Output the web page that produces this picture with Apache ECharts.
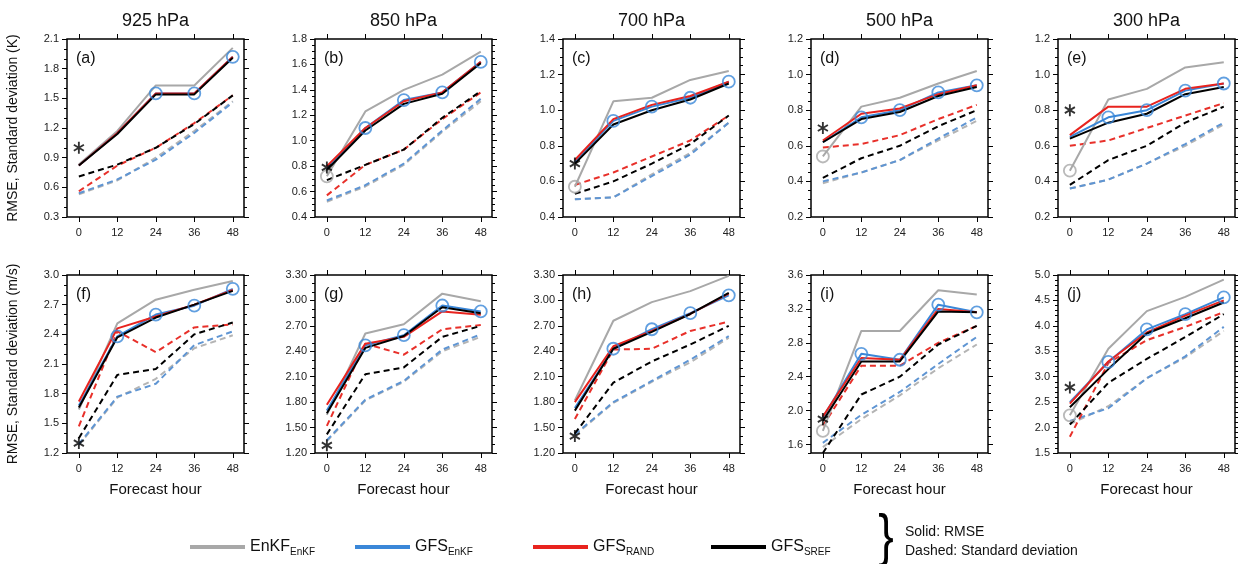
<!DOCTYPE html>
<html>
<head>
<meta charset="utf-8">
<script src="https://cdn.jsdelivr.net/npm/echarts@6/dist/echarts.min.js"></script>
<style>
html,body{margin:0;padding:0;background:#fff;}
#chart{width:1238px;height:564px;}
</style>
</head>
<body>
<div id="chart"></div>
<script>
// ---------------- DATA ----------------
const hours = [0, 12, 24, 36, 48];
const levels = ['925 hPa', '850 hPa', '700 hPa', '500 hPa', '300 hPa'];
const panelLabels = ['(a)', '(b)', '(c)', '(d)', '(e)', '(f)', '(g)', '(h)', '(i)', '(j)'];
const rowTitles = ['RMSE, Standard deviation (K)', 'RMSE, Standard deviation (m/s)'];
const xAxisTitle = 'Forecast hour';
const modelNames = ['EnKF_EnKF', 'GFS_EnKF', 'GFS_RAND', 'GFS_SREF'];
const modelMain = ['EnKF', 'GFS', 'GFS', 'GFS'];
const modelSub = ['EnKF', 'EnKF', 'RAND', 'SREF'];
const noteLines = ['Solid: RMSE', 'Dashed: Standard deviation'];

// y-axis tick labels per panel (a..j)
const yTickLabels = [
  ['0.3', '0.6', '0.9', '1.2', '1.5', '1.8', '2.1'],
  ['0.4', '0.6', '0.8', '1.0', '1.2', '1.4', '1.6', '1.8'],
  ['0.4', '0.6', '0.8', '1.0', '1.2', '1.4'],
  ['0.2', '0.4', '0.6', '0.8', '1.0', '1.2'],
  ['0.2', '0.4', '0.6', '0.8', '1.0', '1.2'],
  ['1.2', '1.5', '1.8', '2.1', '2.4', '2.7', '3.0'],
  ['1.20', '1.50', '1.80', '2.10', '2.40', '2.70', '3.00', '3.30'],
  ['1.20', '1.50', '1.80', '2.10', '2.40', '2.70', '3.00', '3.30'],
  ['1.6', '2.0', '2.4', '2.8', '3.2', '3.6'],
  ['1.5', '2.0', '2.5', '3.0', '3.5', '4.0', '4.5', '5.0']
];
const yMin = [0.3, 0.4, 0.4, 0.2, 0.2, 1.2, 1.2, 1.2, 1.5, 1.5];
const yMax = [2.1, 1.8, 1.4, 1.2, 1.2, 3.0, 3.3, 3.3, 3.6, 5.0];

// RMSE (solid)
const enkfRmse = [
  [0.83, 1.17, 1.63, 1.63, 2.01],
  [0.72, 1.23, 1.40, 1.52, 1.70],
  [0.57, 1.05, 1.07, 1.17, 1.22],
  [0.54, 0.82, 0.87, 0.95, 1.02],
  [0.46, 0.86, 0.92, 1.04, 1.07],
  [1.64, 2.51, 2.75, 2.85, 2.94],
  [1.65, 2.61, 2.72, 3.08, 2.99],
  [1.82, 2.76, 2.98, 3.11, 3.29],
  [1.76, 2.94, 2.94, 3.42, 3.37],
  [2.24, 3.55, 4.29, 4.57, 4.91]
];
const gfsEnkfRmse = [
  [0.82, 1.15, 1.55, 1.55, 1.92],
  [0.78, 1.10, 1.32, 1.38, 1.62],
  [0.71, 0.94, 1.02, 1.07, 1.16],
  [0.62, 0.76, 0.80, 0.90, 0.94],
  [0.65, 0.76, 0.80, 0.91, 0.95],
  [1.68, 2.38, 2.60, 2.69, 2.86],
  [1.70, 2.47, 2.59, 2.94, 2.87],
  [1.73, 2.43, 2.66, 2.85, 3.06],
  [1.92, 2.67, 2.60, 3.25, 3.16],
  [2.50, 3.29, 3.93, 4.23, 4.56]
];
const gfsRandRmse = [
  [0.82, 1.15, 1.55, 1.55, 1.92],
  [0.80, 1.10, 1.31, 1.38, 1.62],
  [0.72, 0.95, 1.03, 1.08, 1.16],
  [0.63, 0.78, 0.81, 0.89, 0.94],
  [0.66, 0.82, 0.82, 0.92, 0.95],
  [1.72, 2.46, 2.58, 2.70, 2.85],
  [1.77, 2.49, 2.57, 2.87, 2.83],
  [1.80, 2.46, 2.64, 2.84, 3.08],
  [1.93, 2.62, 2.60, 3.20, 3.16],
  [2.47, 3.30, 3.87, 4.20, 4.50]
];
const gfsSrefRmse = [
  [0.82, 1.14, 1.54, 1.54, 1.91],
  [0.77, 1.08, 1.29, 1.37, 1.61],
  [0.70, 0.92, 1.00, 1.06, 1.15],
  [0.62, 0.75, 0.79, 0.88, 0.93],
  [0.64, 0.73, 0.78, 0.89, 0.93],
  [1.66, 2.37, 2.57, 2.70, 2.84],
  [1.67, 2.44, 2.58, 2.92, 2.85],
  [1.70, 2.43, 2.63, 2.84, 3.09],
  [1.88, 2.58, 2.58, 3.17, 3.16],
  [2.40, 3.15, 3.85, 4.15, 4.46]
];
// Standard deviation (dashed)
const enkfSd = [
  [0.53, 0.67, 0.90, 1.17, 1.47],
  [0.52, 0.64, 0.81, 1.07, 1.31],
  [0.50, 0.51, 0.64, 0.76, 0.93],
  [0.39, 0.45, 0.52, 0.63, 0.74],
  [0.36, 0.41, 0.50, 0.60, 0.72],
  [1.28, 1.76, 1.95, 2.26, 2.39],
  [1.34, 1.82, 2.04, 2.40, 2.57],
  [1.41, 1.79, 2.04, 2.27, 2.56],
  [1.57, 1.90, 2.18, 2.50, 2.78],
  [2.07, 2.42, 2.97, 3.38, 3.90]
];
const gfsEnkfSd = [
  [0.54, 0.68, 0.88, 1.15, 1.46],
  [0.53, 0.65, 0.82, 1.08, 1.33],
  [0.50, 0.51, 0.63, 0.75, 0.93],
  [0.40, 0.45, 0.52, 0.64, 0.76],
  [0.36, 0.41, 0.50, 0.61, 0.73],
  [1.29, 1.77, 1.90, 2.29, 2.43],
  [1.35, 1.83, 2.05, 2.42, 2.60],
  [1.42, 1.80, 2.05, 2.30, 2.58],
  [1.62, 1.95, 2.22, 2.55, 2.87],
  [2.13, 2.38, 2.97, 3.40, 3.98]
];
const gfsRandSd = [
  [0.56, 0.82, 1.00, 1.25, 1.53],
  [0.57, 0.81, 0.93, 1.17, 1.38],
  [0.58, 0.65, 0.74, 0.83, 0.97],
  [0.59, 0.61, 0.66, 0.75, 0.83],
  [0.60, 0.63, 0.70, 0.77, 0.84],
  [1.47, 2.43, 2.22, 2.47, 2.50],
  [1.52, 2.49, 2.36, 2.66, 2.71],
  [1.60, 2.42, 2.43, 2.64, 2.75],
  [1.82, 2.53, 2.53, 2.80, 3.00],
  [1.82, 3.27, 3.72, 3.98, 4.27]
];
const gfsSrefSd = [
  [0.71, 0.83, 1.00, 1.24, 1.53],
  [0.69, 0.81, 0.93, 1.18, 1.39],
  [0.53, 0.60, 0.70, 0.81, 0.97],
  [0.42, 0.53, 0.60, 0.71, 0.80],
  [0.38, 0.52, 0.60, 0.73, 0.82],
  [1.35, 1.99, 2.05, 2.40, 2.52],
  [1.42, 2.13, 2.21, 2.57, 2.70],
  [1.43, 2.03, 2.28, 2.48, 2.70],
  [1.50, 2.19, 2.40, 2.78, 3.00],
  [2.06, 2.88, 3.35, 3.78, 4.23]
];
// asterisk value at hour 0 for each panel
const asteriskValue = [1.00, 0.79, 0.70, 0.70, 0.80, 1.30, 1.29, 1.40, 1.90, 2.79];
// panels where EnKF_EnKF hour-0 value is circled
const grayCircled = [false, true, true, true, true, false, false, false, true, true];
// hours at which GFS_EnKF RMSE is circled
const blueCircledHours = [
  [24, 36, 48], [12, 24, 36, 48], [12, 24, 36, 48], [12, 24, 36, 48], [12, 24, 36, 48],
  [12, 24, 36, 48], [12, 24, 36, 48], [12, 24, 36, 48], [12, 24, 36, 48], [12, 24, 36, 48]
];
// minor tick subdivisions per major interval
const minorDiv = [3, 4, 4, 4, 4, 3, 3, 3, 4, 5];

// ---------------- STYLE / LAYOUT ----------------
const solidColors = ['#a8a8a8', '#3a87d8', '#e8231e', '#000000'];
const dashColors = ['#b4b4b4', '#5f95d3', '#e8302a', '#000000'];
const gridLefts = [67, 315, 563, 811, 1058];
const gridTops = [39, 275];
const GW = 177, GH = 178;
const XMIN = -3.7, XMAX = 51.5;
const FONT = 'Liberation Sans';
const asteriskPath = 'path://M-1.6,-10L1.6,-10L1.6,10L-1.6,10Z M7.86,-6.39L9.46,-3.61L-7.86,6.39L-9.46,3.61Z M-9.46,-3.61L-7.86,-6.39L9.46,3.61L7.86,6.39Z';

const rmseSets = [enkfRmse, gfsEnkfRmse, gfsRandRmse, gfsSrefRmse];
const sdSets = [enkfSd, gfsEnkfSd, gfsRandSd, gfsSrefSd];

const grid = [], xAxis = [], yAxis = [], series = [], graphic = [];
const tickStyle = {color: '#000', width: 1};

for (let p = 0; p < 10; p++) {
  const row = p < 5 ? 0 : 1, col = p % 5;
  const left = gridLefts[col], top = gridTops[row];
  const majors = yTickLabels[p].map(Number);
  const step = majors[1] - majors[0];
  const mstep = step / minorDiv[p];
  const minors = [];
  for (let v = majors[0] - Math.floor((majors[0] - yMin[p]) / mstep + 1e-6) * mstep; v <= yMax[p] + 1e-6; v += mstep) {
    const r = Math.round(v * 1000) / 1000;
    if (!majors.some(m => Math.abs(m - r) < 1e-6) && r >= yMin[p] - 1e-6) minors.push(r);
  }
  const gA = grid.length;
  grid.push({left: left, top: top, width: GW, height: GH, show: true, borderColor: '#000', borderWidth: 1.5, backgroundColor: 'transparent'});
  const gB = grid.length;
  grid.push({left: left, top: top, width: GW, height: GH, show: false});

  const xa = xAxis.length;
  xAxis.push({
    type: 'value', gridIndex: gA, min: XMIN, max: XMAX, position: 'bottom',
    axisLine: {show: false, onZero: false}, splitLine: {show: false},
    axisTick: {show: true, inside: false, length: 5, customValues: hours, lineStyle: tickStyle},
    axisLabel: {customValues: hours, fontSize: 11, color: '#222', margin: 10, fontFamily: FONT},
    name: row === 1 ? xAxisTitle : '', nameLocation: 'middle', nameGap: 29,
    nameTextStyle: {fontSize: 15, color: '#111', fontFamily: FONT}
  });
  xAxis.push({
    type: 'value', gridIndex: gB, min: XMIN, max: XMAX, position: 'top',
    axisLine: {show: false, onZero: false}, splitLine: {show: false}, axisLabel: {show: false},
    axisTick: {show: true, inside: false, length: 5, customValues: hours, lineStyle: tickStyle}
  });
  const labelsP = yTickLabels[p];
  const ya = yAxis.length;
  yAxis.push({
    type: 'value', gridIndex: gA, min: yMin[p], max: yMax[p], position: 'left',
    axisLine: {show: false, onZero: false}, splitLine: {show: false},
    axisTick: {show: true, inside: false, length: 5, customValues: majors, lineStyle: tickStyle},
    axisLabel: {customValues: majors, fontSize: 11, color: '#222', margin: 8, fontFamily: FONT,
      formatter: v => { const i = majors.findIndex(m => Math.abs(m - v) < 1e-6); return i >= 0 ? labelsP[i] : ''; }}
  });
  yAxis.push({
    type: 'value', gridIndex: gA, min: yMin[p], max: yMax[p], position: 'right',
    axisLine: {show: false, onZero: false}, splitLine: {show: false}, axisLabel: {show: false},
    axisTick: {show: true, inside: false, length: 5, customValues: majors, lineStyle: tickStyle}
  });
  yAxis.push({
    type: 'value', gridIndex: gB, min: yMin[p], max: yMax[p], position: 'left',
    axisLine: {show: false, onZero: false}, splitLine: {show: false}, axisLabel: {show: false},
    axisTick: {show: true, inside: false, length: 3, customValues: minors, lineStyle: tickStyle}
  });
  yAxis.push({
    type: 'value', gridIndex: gB, min: yMin[p], max: yMax[p], position: 'right',
    axisLine: {show: false, onZero: false}, splitLine: {show: false}, axisLabel: {show: false},
    axisTick: {show: true, inside: false, length: 3, customValues: minors, lineStyle: tickStyle}
  });

  // dashed (standard deviation)
  for (let m = 0; m < 4; m++) {
    series.push({
      name: modelNames[m], type: 'line', xAxisIndex: xa, yAxisIndex: ya, z: 2 + m * 0.01,
      showSymbol: false, symbol: 'none', silent: true,
      lineStyle: {color: dashColors[m], width: 2, type: [6, 4]},
      itemStyle: {color: dashColors[m]},
      data: hours.map((h, k) => [h, sdSets[m][p][k]])
    });
  }
  // solid (RMSE)
  for (let m = 0; m < 4; m++) {
    series.push({
      name: modelNames[m], type: 'line', xAxisIndex: xa, yAxisIndex: ya, z: 3 + m * 0.01,
      showSymbol: false, symbol: 'none', silent: true,
      lineStyle: {color: solidColors[m], width: 2},
      itemStyle: {color: solidColors[m]},
      data: hours.map((h, k) => [h, rmseSets[m][p][k]])
    });
  }
  // markers
  series.push({
    name: 'GFS_EnKF circles', type: 'scatter', xAxisIndex: xa, yAxisIndex: ya, z: 5, silent: true,
    symbol: 'circle', symbolSize: 12,
    itemStyle: {color: 'rgba(0,0,0,0)', borderColor: '#3a87d8', borderWidth: 1.8},
    data: blueCircledHours[p].map(h => [h, gfsEnkfRmse[p][hours.indexOf(h)]])
  });
  if (grayCircled[p]) {
    series.push({
      name: 'EnKF_EnKF circle', type: 'scatter', xAxisIndex: xa, yAxisIndex: ya, z: 5, silent: true,
      symbol: 'circle', symbolSize: 12,
      itemStyle: {color: 'rgba(0,0,0,0)', borderColor: '#a8a8a8', borderWidth: 1.8},
      data: [[0, enkfRmse[p][0]]]
    });
  }
  series.push({
    name: 'asterisk', type: 'scatter', xAxisIndex: xa, yAxisIndex: ya, z: 6, silent: true,
    symbol: asteriskPath, symbolSize: [11, 12], itemStyle: {color: '#000'},
    data: [[0, asteriskValue[p]]]
  });

  if (row === 0) {
    graphic.push({type: 'text', x: left + GW / 2, y: 21, silent: true,
      style: {text: levels[col], align: 'center', verticalAlign: 'middle', textAlign: 'center', textVerticalAlign: 'middle',
        fontSize: 18, fontFamily: FONT, fill: '#111'}});
  }
  graphic.push({type: 'text', x: left + 9, y: top + 20, silent: true,
    style: {text: panelLabels[p], align: 'left', verticalAlign: 'middle', textAlign: 'left', textVerticalAlign: 'middle',
      fontSize: 16, fontFamily: FONT, fill: '#111'}});
}

for (let r = 0; r < 2; r++) {
  graphic.push({type: 'text', x: 13, y: gridTops[r] + GH / 2, rotation: Math.PI / 2, silent: true,
    style: {text: rowTitles[r], align: 'center', verticalAlign: 'middle', textAlign: 'center', textVerticalAlign: 'middle',
      fontSize: 14, fontFamily: FONT, fill: '#111'}});
}

const legendLefts = [185, 350, 528, 706];
const legend = modelNames.map((n, i) => ({
  left: legendLefts[i], top: 534, icon: 'rect', itemWidth: 55, itemHeight: 4, selectedMode: false,
  data: [{name: n, itemStyle: {color: solidColors[i], borderWidth: 0}, lineStyle: {width: 0}}],
  formatter: () => '{m|' + modelMain[i] + '}{s|' + modelSub[i] + '}',
  textStyle: {fontFamily: FONT, rich: {
    m: {fontSize: 16, color: '#111', lineHeight: 20, fontFamily: FONT},
    s: {fontSize: 10, color: '#111', lineHeight: 10, verticalAlign: 'bottom', fontFamily: FONT}
  }}
}));

graphic.push({type: 'text', x: 886, y: 539, silent: true, scaleX: 0.8,
  style: {text: '}', align: 'center', verticalAlign: 'middle', textAlign: 'center', textVerticalAlign: 'middle',
    fontSize: 58, fontFamily: FONT, fill: '#000'}});
noteLines.forEach((t, i) => graphic.push({type: 'text', x: 905, y: 532 + i * 19, silent: true,
  style: {text: t, align: 'left', verticalAlign: 'middle', textAlign: 'left', textVerticalAlign: 'middle',
    fontSize: 14, fontFamily: FONT, fill: '#111'}}));

const chart = echarts.init(document.getElementById('chart'), null, {renderer: 'canvas'});
chart.setOption({
  animation: false,
  backgroundColor: '#fff',
  textStyle: {fontFamily: FONT},
  grid, xAxis, yAxis, series, legend, graphic
});
</script>
</body>
</html>
